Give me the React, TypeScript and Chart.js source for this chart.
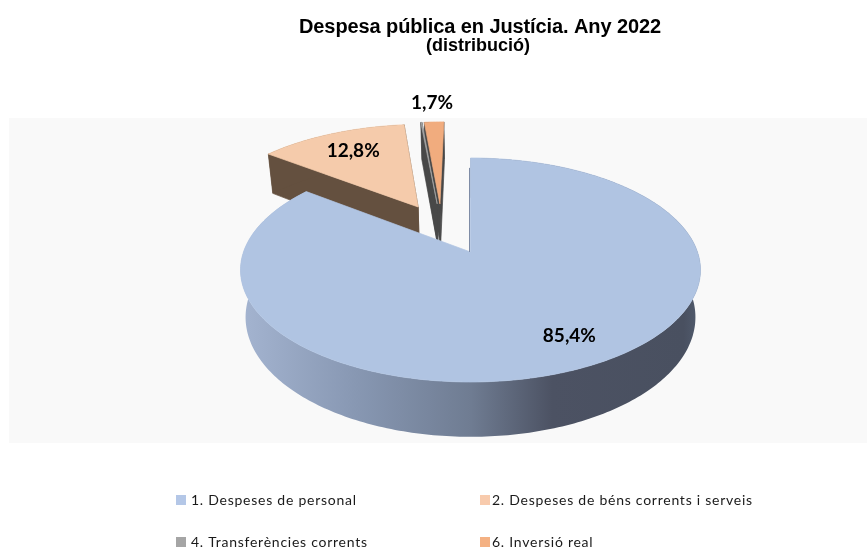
import React, { useEffect, useRef } from "react";
import { Chart, registerables } from "chart.js";

Chart.register(...registerables);

const categories = [
  "1. Despeses de personal",
  "2. Despeses de béns corrents i serveis",
  "4. Transferències corrents",
  "6. Inversió real",
];
const shares = [85.4, 12.8, 0.1, 1.7];
const shownLabels = ["85,4%", "12,8%", "", "1,7%"];
const titleLine = "Despesa pública en Justícia. Any 2022";
const subtitleLine = "(distribució)";

const legendColors = ["#B4C7E7", "#F8CBAD", "#A5A5A5", "#F4B183"];
const topColors = ["#B0C4E2", "#F5CBAB", "#A5A5A5", "#F1AC7E"];
const wallColors = ["#5A6478", "#64503F", "#484848", "#484848"];
// explosion of each slice, in disc units (u to the right, v towards the viewer)
const explodeU = [0, -0.247, -0.158, -0.145];
const explodeV = [0, -0.442, -0.475, -0.475];
// label anchors as offsets relative to the slice's exploded apex
const labelRadius = [0.8, 0.62, 0, 1.2];
const labelDx = [8, -9, 0, -1];
const labelDy = [-5, -9, 0, -5];
const paintOrder = [3, 2, 1, 0];

const W = 867;
const H = 548;
const VIEW = { cx: 470.5, cy: 252, A: 109.1, B: 227, c: -0.1607, D: 46, k: 0.978 };
const PLOT = { x: 9, y: 118, r: 867, b: 443 };

function topPt(u: number, v: number): [number, number] {
  const d = 1 + VIEW.c * v;
  return [VIEW.cx + (VIEW.B * u) / d, VIEW.cy + (VIEW.A * v) / d];
}
function botPt(u: number, v: number): [number, number] {
  const d = 1 + VIEW.c * v;
  return [VIEW.cx + (VIEW.B * VIEW.k * u) / d, VIEW.cy + (VIEW.A * v + VIEW.D) / d];
}

const pie3d = {
  id: "pie3d",
  beforeDatasetsDraw(chart: any) {
    const ctx: CanvasRenderingContext2D = chart.ctx;
    ctx.save();
    ctx.fillStyle = "#F9F9F9";
    ctx.fillRect(PLOT.x, PLOT.y, PLOT.r - PLOT.x, PLOT.b - PLOT.y);

    const arcs = chart.getDatasetMeta(0).data;
    const wallGrad = ctx.createLinearGradient(245, 0, 697, 0);
    wallGrad.addColorStop(0, "#A3B3CF");
    wallGrad.addColorStop(0.25, "#8797B2");
    wallGrad.addColorStop(0.5, "#6F7C92");
    wallGrad.addColorStop(0.68, "#4C5263");
    wallGrad.addColorStop(0.97, "#495060");
    wallGrad.addColorStop(1, "#505A6C");

    const poly = (pts: [number, number][], fill: any, edge: boolean) => {
      ctx.beginPath();
      pts.forEach((p, i) => (i ? ctx.lineTo(p[0], p[1]) : ctx.moveTo(p[0], p[1])));
      ctx.closePath();
      ctx.fillStyle = fill;
      ctx.fill();
      if (edge) {
        ctx.strokeStyle = fill;
        ctx.lineWidth = 0.7;
        ctx.stroke();
      }
    };

    paintOrder.forEach((i) => {
      const a0 = arcs[i].startAngle + Math.PI / 2;
      const a1 = arcs[i].endAngle + Math.PI / 2;
      const ou = explodeU[i];
      const ov = explodeV[i];
      const n = Math.max(2, Math.ceil((a1 - a0) * 60));
      const rim: [number, number][] = [];
      for (let s = 0; s <= n; s++) {
        const t = a0 + ((a1 - a0) * s) / n;
        rim.push([ou + Math.sin(t), ov - Math.cos(t)]);
      }
      const wall = i === 0 ? wallGrad : wallColors[i];
      if (i !== 0) {
        poly([topPt(ou, ov), topPt(rim[0][0], rim[0][1]), botPt(rim[0][0], rim[0][1]), botPt(ou, ov)], wall, true);
        poly([topPt(ou, ov), topPt(rim[n][0], rim[n][1]), botPt(rim[n][0], rim[n][1]), botPt(ou, ov)], wall, true);
      }
      // outer wall
      const outer: [number, number][] = [
        ...rim.map((p) => topPt(p[0], p[1])),
        ...rim.slice().reverse().map((p) => botPt(p[0], p[1])),
      ];
      poly(outer, wall, false);
      // top face
      poly([topPt(ou, ov), ...rim.map((p) => topPt(p[0], p[1]))], topColors[i], true);
      if (i === 0) {
        // the thin visible sliver of the radial wall at twelve o'clock
        const a = topPt(ou, ov);
        const b = topPt(rim[0][0], rim[0][1] + 0.12);
        ctx.beginPath();
        ctx.moveTo(a[0] - 1, a[1]);
        ctx.lineTo(b[0] - 1, b[1]);
        ctx.strokeStyle = "#7F8CA6";
        ctx.lineWidth = 1;
        ctx.stroke();
      }
    });
    ctx.restore();
    return false;
  },
  afterDraw(chart: any) {
    const ctx: CanvasRenderingContext2D = chart.ctx;
    const arcs = chart.getDatasetMeta(0).data;
    ctx.save();
    ctx.textAlign = "center";
    ctx.textBaseline = "middle";
    ctx.fillStyle = "#000";

    // title
    ctx.font = 'bold 20px "Liberation Sans"';
    (ctx as any).letterSpacing = "-0.1px";
    ctx.fillText(titleLine, 480, 27);
    ctx.font = 'bold 18px "Liberation Sans"';
    (ctx as any).letterSpacing = "0px";
    ctx.fillText(subtitleLine, 478, 46);

    // value labels
    ctx.font = "bold 19px Lato";
    shownLabels.forEach((txt, i) => {
      if (!txt) return;
      const mid = (arcs[i].startAngle + arcs[i].endAngle) / 2 + Math.PI / 2;
      const p = topPt(
        explodeU[i] + labelRadius[i] * Math.sin(mid),
        explodeV[i] - labelRadius[i] * Math.cos(mid)
      );
      ctx.fillText(txt, p[0] + labelDx[i], p[1] + labelDy[i]);
    });

    // legend
    const colX = [176, 480];
    const textGap = [15, 12];
    const rowY = [500, 542];
    ctx.textAlign = "left";
    ctx.font = "14px Lato";
    (ctx as any).letterSpacing = "0.75px";
    categories.forEach((c, i) => {
      const x = colX[i % 2];
      const y = rowY[Math.floor(i / 2)];
      ctx.fillStyle = legendColors[i];
      ctx.fillRect(x, y - 5, 10, 10);
      ctx.fillStyle = "#1a1a1a";
      ctx.fillText(c, x + textGap[i % 2], y + 0.5);
    });
    ctx.restore();
  },
};

export default function App() {
  const ref = useRef<HTMLCanvasElement>(null);
  useEffect(() => {
    const chart = new Chart(ref.current!, {
      type: "pie",
      data: {
        labels: categories,
        datasets: [{ data: shares, backgroundColor: topColors, borderWidth: 0 }],
      },
      options: {
        responsive: false,
        animation: false,
        plugins: { legend: { display: false }, title: { display: false }, tooltip: { enabled: false } },
      },
      plugins: [pie3d],
    } as any);
    return () => chart.destroy();
  }, []);
  return (
    <div style={{ position: "absolute", left: 0, top: 0, width: W, height: H, background: "#fff" }}>
      <canvas ref={ref} width={W} height={H} style={{ display: "block" }} />
    </div>
  );
}
